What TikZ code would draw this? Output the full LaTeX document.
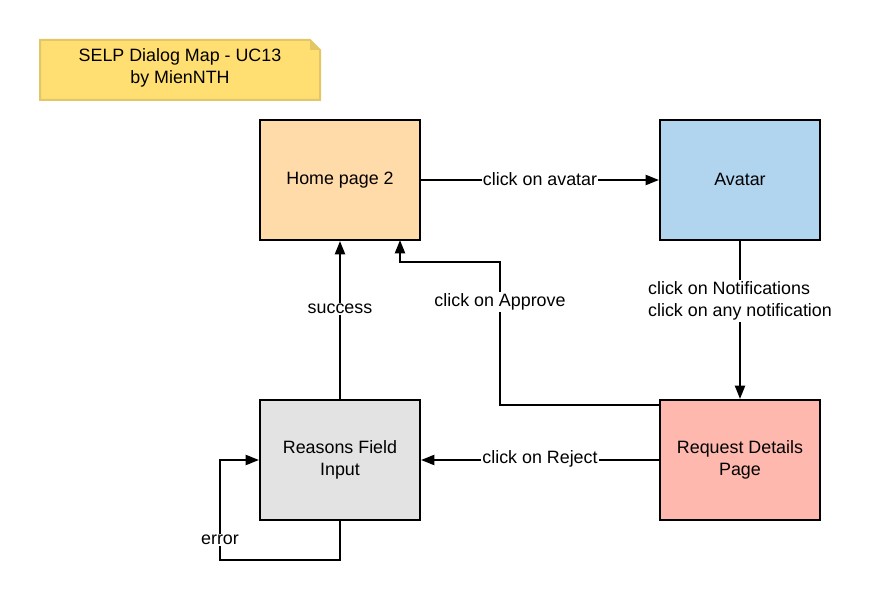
\documentclass[tikz,border=0pt]{standalone}
\usepackage{fontspec}
\setmainfont{Liberation Sans}
\usetikzlibrary{arrows.meta}
\definecolor{homec}{HTML}{FFDBA9}
\definecolor{avac}{HTML}{B1D4EF}
\definecolor{reac}{HTML}{E3E3E3}
\definecolor{reqc}{HTML}{FFB8AD}
\definecolor{notec}{HTML}{FFDF71}
\definecolor{noteb}{HTML}{E3C766}
\begin{document}
\begin{tikzpicture}[x=0.75pt,y=-0.75pt,
  every node/.style={font=\fontsize{13.4}{16.5}\selectfont},
  box/.style={draw=black,line width=1.5pt,minimum width=120pt,minimum height=90pt,inner sep=0pt,align=center},
  conn/.style={line width=1.5pt,-{Triangle[length=10pt,width=7.5pt]}},
  lbl/.style={fill=white,inner sep=1pt,align=center}]
\useasboundingbox (0,0) rectangle (872,602);
% note
\fill[notec] (40,40) -- (310,40) -- (320,50) -- (320,100) -- (40,100) -- cycle;
\draw[noteb,line width=1.5pt] (40,40) -- (310,40) -- (320,50) -- (320,100) -- (40,100) -- cycle;
\fill[noteb] (310,40) -- (320,50) -- (310,50) -- cycle;
\node[align=center] (note) at (180,68) {SELP Dialog Map - UC13\\by MienNTH};
% boxes
\node[box,fill=homec] (home) at (340,180) {\raisebox{1.5pt}{Home page 2}};
\node[box,fill=avac] (ava) at (740,180) {\raisebox{1.5pt}{Avatar}};
\node[box,fill=reac] (rea) at (340,460) {Reasons Field\\Input};
\node[box,fill=reqc] (req) at (740,460) {Request Details\\Page};
% connectors
\draw[conn] (home.east) -- node[lbl,yshift=1pt] {click on avatar} (ava.west);
\draw[conn] (ava.south) -- node[lbl,pos=0.38,align=left,xshift=0pt] {click on Notifications\\click on any notification} (req.north);
\draw[conn] (req.west) -- node[lbl,yshift=1pt] {click on Reject} (rea.west -| rea.east);
\draw[conn] (rea.north) -- node[lbl,pos=0.57] {success} (home.south);
\coordinate (a1) at (500,405);
\coordinate (a2) at (500,262);
\coordinate (a3) at (400,262);
\coordinate (a4) at (400,240);
\draw[conn] (a1 -| req.west) -- (a1) -- node[lbl,pos=0.72] {click on Approve} (a2) -- (a3) -- (a4);
\coordinate (e1) at (340,560);
\coordinate (e2) at (220,560);
\coordinate (e3) at (220,460);
\draw[conn] (rea.south) -- (e1) -- (e2) -- node[lbl,pos=0.2] {error} (e3) -- (rea.west);
\end{tikzpicture}
\end{document}
